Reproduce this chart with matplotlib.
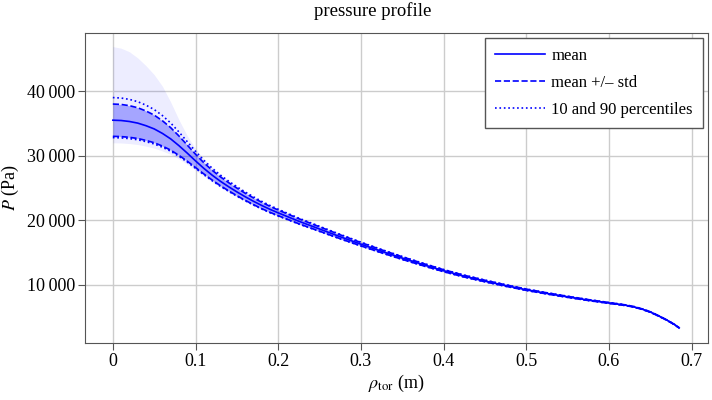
import numpy as np
import matplotlib
matplotlib.use('Agg')
import matplotlib.pyplot as plt
from matplotlib.ticker import FuncFormatter

# profile: rho_tor (m) and pressure (Pa)
rho = [0.0, 0.01, 0.02, 0.03, 0.04, 0.05, 0.06, 0.07, 0.08, 0.09, 0.10,
       0.11, 0.12, 0.13, 0.14, 0.15, 0.16, 0.17, 0.18, 0.19, 0.20,
       0.225, 0.25, 0.275, 0.30, 0.325, 0.35, 0.375, 0.40, 0.425, 0.45,
       0.475, 0.50, 0.525, 0.55, 0.575, 0.60,
       0.61, 0.62, 0.63, 0.64, 0.65, 0.66, 0.67, 0.68, 0.685]
p_mean = [35500, 35450, 35300, 35050, 34650, 34150, 33450, 32600, 31550, 30400, 29200,
          28050, 27000, 26050, 25200, 24400, 23650, 22950, 22300, 21700, 21150,
          19850, 18650, 17450, 16300, 15200, 14150, 13150, 12200, 11350, 10600,
          9900, 9250, 8680, 8150, 7650, 7200,
          7030, 6850, 6600, 6250, 5800, 5200, 4550, 3800, 3330]
p_std = [2500, 2490, 2450, 2380, 2280, 2140, 1960, 1740, 1500, 1250, 1030,
         870, 760, 690, 630, 590, 550, 520, 490, 460, 440,
         390, 340, 300, 260, 230, 200, 175, 150, 135, 120,
         110, 100, 90, 80, 70, 60,
         55, 50, 45, 40, 35, 30, 25, 20, 20]
# spread of the other curves relative to the mean
p90_above = [3500, 3480, 3420, 3320, 3180, 3000, 2760, 2460, 2120, 1780, 1480,
             1250, 1080, 960, 870, 800, 740, 690, 640, 600, 560,
             480, 420, 370, 320, 280, 240, 210, 180, 160, 140,
             125, 110, 100, 90, 80, 70,
             62, 56, 50, 44, 38, 32, 26, 22, 20]
p10_below = [2700, 2690, 2650, 2580, 2470, 2330, 2140, 1900, 1640, 1380, 1150,
             980, 860, 780, 710, 660, 620, 580, 550, 520, 490,
             430, 375, 330, 285, 250, 215, 190, 165, 145, 130,
             118, 105, 95, 85, 75, 65,
             58, 53, 48, 42, 36, 31, 26, 21, 20]
max_above = [11400, 11200, 10800, 10100, 9300, 8400, 7300, 5700, 4000, 2700, 1900,
             1450, 1220, 1080, 980, 900, 830, 770, 720, 670, 630,
             560, 490, 430, 370, 320, 275, 240, 205, 180, 160,
             140, 125, 112, 100, 88, 76,
             68, 61, 54, 47, 40, 34, 28, 23, 22]
min_below = [3500, 3480, 3420, 3320, 3170, 2980, 2720, 2400, 2050, 1720, 1450,
             1220, 1060, 950, 860, 790, 730, 680, 630, 590, 560,
             500, 440, 385, 335, 290, 250, 215, 185, 165, 145,
             130, 115, 103, 92, 81, 70,
             63, 57, 51, 45, 38, 32, 27, 22, 21]

plt.rcParams['font.family'] = ['Liberation Serif', 'DejaVu Serif']
plt.rcParams['mathtext.fontset'] = 'stix'

x = np.array(rho)
mean = np.array(p_mean)
std = np.array(p_std)

fig = plt.figure(figsize=(7.12, 4.0), dpi=100)
ax = fig.add_axes([0.119, 0.1425, 0.875, 0.775])

blue = '#0000ff'
ax.fill_between(x, mean - np.array(min_below), mean + np.array(max_above),
                color=blue, alpha=0.07, lw=0)
ax.fill_between(x, mean - std, mean + std, color=blue, alpha=0.3, lw=0)
ax.plot(x, mean, color=blue, lw=1.2, label='mean')
ax.plot(x, mean + std, color=blue, lw=1.2, ls='--', label='mean +/\u2013 std')
ax.plot(x, mean - std, color=blue, lw=1.2, ls='--')
ax.plot(x, mean - np.array(p10_below), color=blue, lw=1.2, ls=':',
        label='10 and 90 percentiles')
ax.plot(x, mean + np.array(p90_above), color=blue, lw=1.2, ls=':')

ax.set_xlim(-0.034, 0.7195)
ax.set_ylim(1000, 49000)
ax.set_xticks([0, 0.1, 0.2, 0.3, 0.4, 0.5, 0.6, 0.7])
ax.set_xticklabels(['0', '0.1', '0.2', '0.3', '0.4', '0.5', '0.6', '0.7'])
ax.set_yticks([10000, 20000, 30000, 40000])
ax.yaxis.set_major_formatter(FuncFormatter(
    lambda v, pos: f'{int(v):,}'.replace(',', '\u2009')))

ax.grid(True, color='#cccccc', lw=1)
ax.set_axisbelow(True)
for s in ax.spines.values():
    s.set_color('#555555')
ax.tick_params(colors='#555555', labelcolor='black', labelsize=13,
               length=5, pad=2)

ax.set_xlabel(r'$\rho_{\rm tor}$ (m)', fontsize=13, labelpad=2)
ax.set_ylabel(r'$P$ (Pa)', fontsize=13, labelpad=4)
ax.set_title('pressure profile', fontsize=13.5, pad=12, x=0.462)

leg = ax.legend(loc='upper right', fontsize=12, fancybox=False,
                framealpha=1, edgecolor='#555555', handlelength=3.0,
                handletextpad=0.35, borderpad=0.6, labelspacing=0.65,
                borderaxespad=0.3)
leg.get_frame().set_linewidth(1)

fig.savefig('out.png', dpi=100)
